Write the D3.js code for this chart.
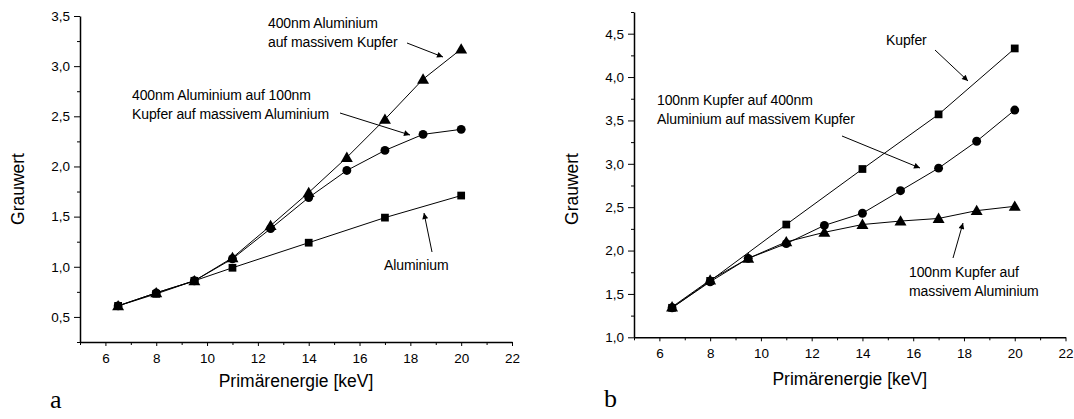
<!DOCTYPE html>
<html>
<head>
<meta charset="utf-8">
<script src="https://cdn.jsdelivr.net/npm/d3@7"></script>
<style>
  body { margin: 0; background: #fff; }
  text { font-family: "Liberation Sans", Arial, sans-serif; fill: #000; }
</style>
</head>
<body>
<div id="viz"></div>
<script>
const width = 1074;
const height = 419;

// panel a
const energyA = [6.5, 8, 9.5, 11, 12.5, 14, 15.5, 17, 18.5, 20];
const alOnCu = [0.61, 0.74, 0.86, 1.09, 1.41, 1.74, 2.09, 2.47, 2.87, 3.17];
const alOnCuOnAl = [0.61, 0.74, 0.86, 1.08, 1.38, 1.69, 1.96, 2.16, 2.32, 2.37];
const energyAlu = [6.5, 8, 9.5, 11, 14, 17, 20];
const aluminium = [0.61, 0.73, 0.86, 0.99, 1.24, 1.49, 1.71];

// panel b
const energyB = [6.5, 8, 9.5, 11, 12.5, 14, 15.5, 17, 18.5, 20];
const energyCu = [6.5, 8, 11, 14, 17, 20];
const kupfer = [1.34, 1.65, 2.30, 2.94, 3.57, 4.33];
const cuOnAlOnCu = [1.34, 1.64, 1.91, 2.08, 2.29, 2.43, 2.69, 2.95, 3.26, 3.62];
const cuOnAl = [1.35, 1.66, 1.91, 2.10, 2.21, 2.30, 2.34, 2.37, 2.46, 2.51];

const xTicks = [6, 8, 10, 12, 14, 16, 18, 20, 22];
const yTicksA = [0.5, 1.0, 1.5, 2.0, 2.5, 3.0, 3.5];
const yTicksB = [1.0, 1.5, 2.0, 2.5, 3.0, 3.5, 4.0, 4.5];

const fmt = d => d3.format('.1f')(d).replace('.', ',');

const svg = d3.select('#viz')
    .append('svg')
        .attr('width', width)
        .attr('height', height);

svg.append('defs').append('marker')
    .attr('id', 'arrow')
    .attr('viewBox', '0 0 10 10')
    .attr('refX', 10).attr('refY', 5)
    .attr('markerWidth', 10).attr('markerHeight', 6)
    .attr('markerUnits', 'userSpaceOnUse')
    .attr('orient', 'auto')
    .append('path')
        .attr('d', 'M0,0 L10,5 L0,10 z')
        .attr('fill', '#000');

function drawPanel(cfg) {
    const g = svg.append('g');
    const x = d3.scaleLinear().domain([5, 22]).range(cfg.xRange);
    const y = d3.scaleLinear().domain(cfg.yDomain).range(cfg.yRange);

    // minor ticks
    const xMinor = d3.range(5, 22, 1).filter(v => v % 2 === 1);
    const yMinor = d3.range(cfg.yDomain[0], cfg.yDomain[1] + 0.01, 0.25)
        .filter(v => Math.abs(v * 2 - Math.round(v * 2)) > 0.01);

    g.append('g')
        .attr('transform', `translate(0,${cfg.yRange[0]})`)
        .call(d3.axisBottom(x).tickValues(xMinor).tickSize(3).tickFormat(''))
        .call(a => a.select('.domain').remove());
    g.append('g')
        .attr('transform', `translate(${cfg.xRange[0]},0)`)
        .call(d3.axisLeft(y).tickValues(yMinor).tickSize(3).tickFormat(''))
        .call(a => a.select('.domain').remove());

    const xAxis = g.append('g')
        .attr('transform', `translate(0,${cfg.yRange[0]})`)
        .call(d3.axisBottom(x).tickValues(xTicks).tickSize(4).tickSizeOuter(0).tickPadding(7));
    const yAxis = g.append('g')
        .attr('transform', `translate(${cfg.xRange[0]},0)`)
        .call(d3.axisLeft(y).tickValues(cfg.yTicks).tickSize(6).tickSizeOuter(0).tickPadding(4).tickFormat(fmt));

    [xAxis, yAxis].forEach(a => {
        a.select('.domain').attr('stroke-width', 1.5);
        a.selectAll('text').style('font-size', '13.5px').attr('fill', '#000')
            .style('font-family', '"Liberation Sans", Arial, sans-serif');
    });
    g.selectAll('.tick line').attr('stroke', '#000');

    g.append('text')
        .attr('x', (cfg.xRange[0] + cfg.xRange[1]) / 2)
        .attr('y', cfg.xTitleY)
        .attr('text-anchor', 'middle')
        .style('font-size', '17.5px')
        .text('Primärenergie [keV]');
    g.append('text')
        .attr('transform', `translate(${cfg.yTitleX},${cfg.yTitleY}) rotate(-90)`)
        .attr('text-anchor', 'middle')
        .style('font-size', '17.5px')
        .text('Grauwert');

    const line = d3.line().x(d => x(d[0])).y(d => y(d[1]));

    cfg.series.forEach(s => {
        const pts = s.xs.map((v, i) => [v, s.ys[i]]);
        g.append('path')
            .attr('d', line(pts))
            .attr('fill', 'none')
            .attr('stroke', '#000')
            .attr('stroke-width', 1);
        const sym = d3.symbol()
            .type(s.shape === 'square' ? d3.symbolSquare : s.shape === 'circle' ? d3.symbolCircle : d3.symbolTriangle)
            .size(s.shape === 'triangle' ? 62 : s.shape === 'square' ? 60 : 62);
        g.selectAll(null)
            .data(pts)
            .join('path')
                .attr('d', sym)
                .attr('transform', d => `translate(${x(d[0])},${y(d[1]) + (s.shape === 'triangle' ? 1 : 0)})`)
                .attr('fill', '#000');
    });

    cfg.notes.forEach(n => {
        const t = g.append('text')
            .attr('x', n.tx).attr('y', n.ty)
            .style('font-size', '14px')
            .style('letter-spacing', '-0.1px');
        n.lines.forEach((l, i) => {
            t.append('tspan').attr('x', n.tx).attr('dy', i === 0 ? 0 : 19).text(l);
        });
        g.append('line')
            .attr('x1', n.a[0]).attr('y1', n.a[1])
            .attr('x2', n.a[2]).attr('y2', n.a[3])
            .attr('stroke', '#000')
            .attr('stroke-width', 1)
            .attr('marker-end', 'url(#arrow)');
    });

    svg.append('text')
        .attr('x', cfg.letter[0]).attr('y', cfg.letter[1])
        .style('font-family', '"Liberation Serif", "Times New Roman", serif')
        .style('font-size', '26px')
        .text(cfg.letter[2]);
}

drawPanel({
    xRange: [80, 512],
    yDomain: [0.25, 3.5],
    yRange: [342, 16],
    yTicks: yTicksA,
    xTitleY: 387,
    yTitleX: 24, yTitleY: 189,
    series: [
        {xs: energyAlu, ys: aluminium, shape: 'square'},
        {xs: energyA, ys: alOnCuOnAl, shape: 'circle'},
        {xs: energyA, ys: alOnCu, shape: 'triangle'}
    ],
    notes: [
        {tx: 268, ty: 28, lines: ['400nm Aluminium', 'auf massivem Kupfer'], a: [407, 43, 443, 57]},
        {tx: 132, ty: 100, lines: ['400nm Aluminium auf 100nm', 'Kupfer auf massivem Aluminium'], a: [340, 113, 410, 135]},
        {tx: 384, ty: 270, lines: ['Aluminium'], a: [432, 252, 424, 213]}
    ],
    letter: [50, 408, 'a']
});

drawPanel({
    xRange: [634, 1065.5],
    yDomain: [1.0, 4.75],
    yRange: [337.3, 12],
    yTicks: yTicksB,
    xTitleY: 384.5,
    yTitleX: 578, yTitleY: 189,
    series: [
        {xs: energyCu, ys: kupfer, shape: 'square'},
        {xs: energyB, ys: cuOnAlOnCu, shape: 'circle'},
        {xs: energyB, ys: cuOnAl, shape: 'triangle'}
    ],
    notes: [
        {tx: 886, ty: 45, lines: ['Kupfer'], a: [935, 50, 968, 81]},
        {tx: 657, ty: 105, lines: ['100nm Kupfer auf 400nm', 'Aluminium auf massivem Kupfer'], a: [842, 136, 920, 168]},
        {tx: 909, ty: 277, lines: ['100nm Kupfer auf', 'massivem Aluminium'], a: [953, 258, 963, 223]}
    ],
    letter: [604, 407, 'b']
});
</script>
</body>
</html>
